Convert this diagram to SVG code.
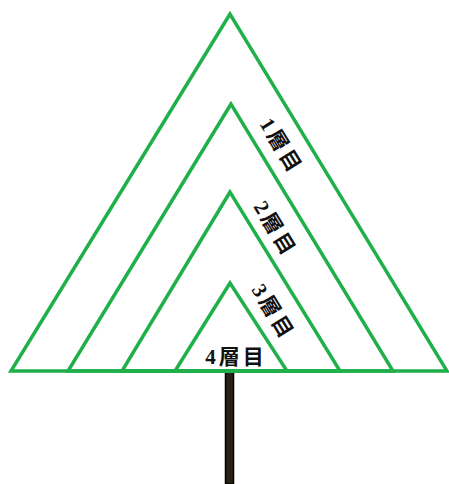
<svg xmlns="http://www.w3.org/2000/svg" width="449" height="484" viewBox="0 0 449 484">
<style>
.tri{fill:none;stroke:#1fb04a;stroke-width:3.5;stroke-linejoin:miter}
.lbl{font-family:"Liberation Serif","Noto Sans CJK JP",serif;font-weight:bold;font-size:21px;letter-spacing:3px;fill:#111;text-anchor:middle;dominant-baseline:central}
</style>
<rect width="449" height="484" fill="#fff"/>
<g id="trunk"><rect x="225.5" y="371" width="8" height="113" fill="#2a2213" stroke="#000" stroke-width="1.5"/></g>
<g id="connectors"></g>
<g id="layer1"><polygon class="tri" points="230,14 11,371 447,371"/><text class="lbl" transform="translate(281,146) rotate(58.5)">1層目</text></g>
<g id="layer2"><polygon class="tri" points="231,104 68,371 393,371"/><text class="lbl" transform="translate(275,229) rotate(58.5)">2層目</text></g>
<g id="layer3"><polygon class="tri" points="230,192 122,371 340,371"/><text class="lbl" transform="translate(273,312) rotate(58.5)">3層目</text></g>
<g id="layer4"><polygon class="tri" points="230,283 175,371 287,371"/><text class="lbl" x="236" y="357">4層目</text></g>
</svg>
